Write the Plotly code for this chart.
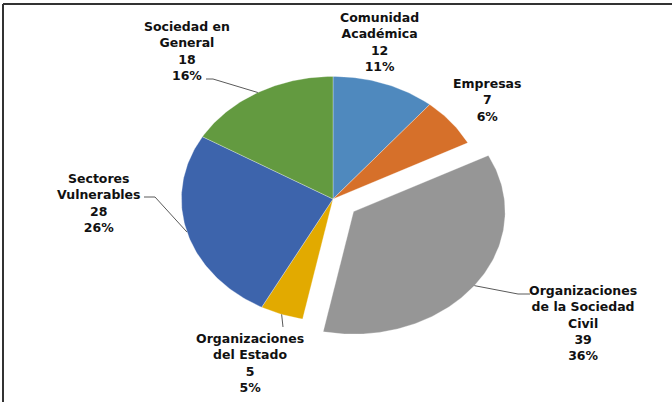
import numpy as np
import plotly.graph_objects as go

# ---------------- data ----------------
categories = ["Comunidad Académica", "Empresas", "Organizaciones de la Sociedad Civil",
              "Organizaciones del Estado", "Sectores Vulnerables", "Sociedad en General"]
label_names = ["Comunidad<br>Académica", "Empresas", "Organizaciones<br>de la Sociedad<br>Civil",
               "Organizaciones<br>del Estado", "Sectores<br>Vulnerables", "Sociedad en<br>General"]
values = [12, 7, 39, 5, 28, 18]
percent_labels = ["11%", "6%", "36%", "5%", "26%", "16%"]

# ---------------- style / layout ----------------
colors = ["#4F89BE", "#D6702A", "#969696", "#E2AA00", "#3D64AC", "#639A40"]
explode = [0, 0, 0.17, 0, 0, 0]
W, H = 672, 402
CX, CY, RX, RY = 333.0, 199.0, 151.6, 122.6
# label block: (x centre, y top); leader: (elbow, end) or None
label_pos = [(379, 8), (487, 74), (583, 281), (250, 329), (99, 169), (187, 17)]
leaders = [None, None, ((518, 294), (530, 294)), ((283, 327), None),
           ((155, 197), (144, 197)), ((213, 79), (206, 79))]
FONT = "DejaVu Sans"

fig = go.Figure()

total = float(sum(values))
start = 0.0
mids = []
for i, v in enumerate(values):
    span = v / total * 2 * np.pi
    a0, a1 = start, start + span
    mid = (a0 + a1) / 2
    mids.append(mid)
    ox = explode[i] * RX * np.sin(mid)
    oy = -explode[i] * RY * np.cos(mid)
    n = max(4, int(np.degrees(span)))
    th = np.linspace(a0, a1, n)
    xs = np.concatenate([[CX + ox], CX + ox + RX * np.sin(th), [CX + ox]])
    ys = np.concatenate([[CY + oy], CY + oy - RY * np.cos(th), [CY + oy]])
    fig.add_trace(go.Scatter(x=xs, y=ys, mode="lines", fill="toself",
                             fillcolor=colors[i], line=dict(color="rgba(255,255,255,0.5)", width=0.6),
                             name=categories[i], hoverinfo="name"))
    start = a1

# leader lines
for i, ld in enumerate(leaders):
    if ld is None:
        continue
    mid = mids[i]
    ox = explode[i] * RX * np.sin(mid)
    oy = -explode[i] * RY * np.cos(mid)
    ex = CX + ox + RX * np.sin(mid)
    ey = CY + oy - RY * np.cos(mid)
    pts = [(ex, ey)] + [p for p in ld if p is not None]
    fig.add_trace(go.Scatter(x=[p[0] for p in pts], y=[p[1] for p in pts], mode="lines",
                             line=dict(color="#5A5A5A", width=1), hoverinfo="skip"))

# labels
for i, (lx, ly) in enumerate(label_pos):
    fig.add_annotation(x=lx, y=ly, xref="x", yref="y", xanchor="center", yanchor="top",
                       text=f"{label_names[i]}<br>{values[i]}<br>{percent_labels[i]}",
                       showarrow=False, align="center",
                       font=dict(family=FONT, size=12.5, color="#111111", weight="bold"))

# frame (top and left border)
fig.add_shape(type="line", xref="x", yref="y", x0=3, x1=W, y0=4, y1=4,
              line=dict(color="#333333", width=2))
fig.add_shape(type="line", xref="x", yref="y", x0=3, x1=3, y0=4, y1=H,
              line=dict(color="#333333", width=2))

fig.update_layout(width=W, height=H, margin=dict(l=0, r=0, t=0, b=0),
                  paper_bgcolor="white", plot_bgcolor="white", showlegend=False,
                  xaxis=dict(range=[0, W], visible=False, fixedrange=True),
                  yaxis=dict(range=[H, 0], visible=False, fixedrange=True))

fig.write_html("out.html", config={"displayModeBar": False},
               post_script="document.body.style.margin='0';document.body.style.overflow='hidden';")
